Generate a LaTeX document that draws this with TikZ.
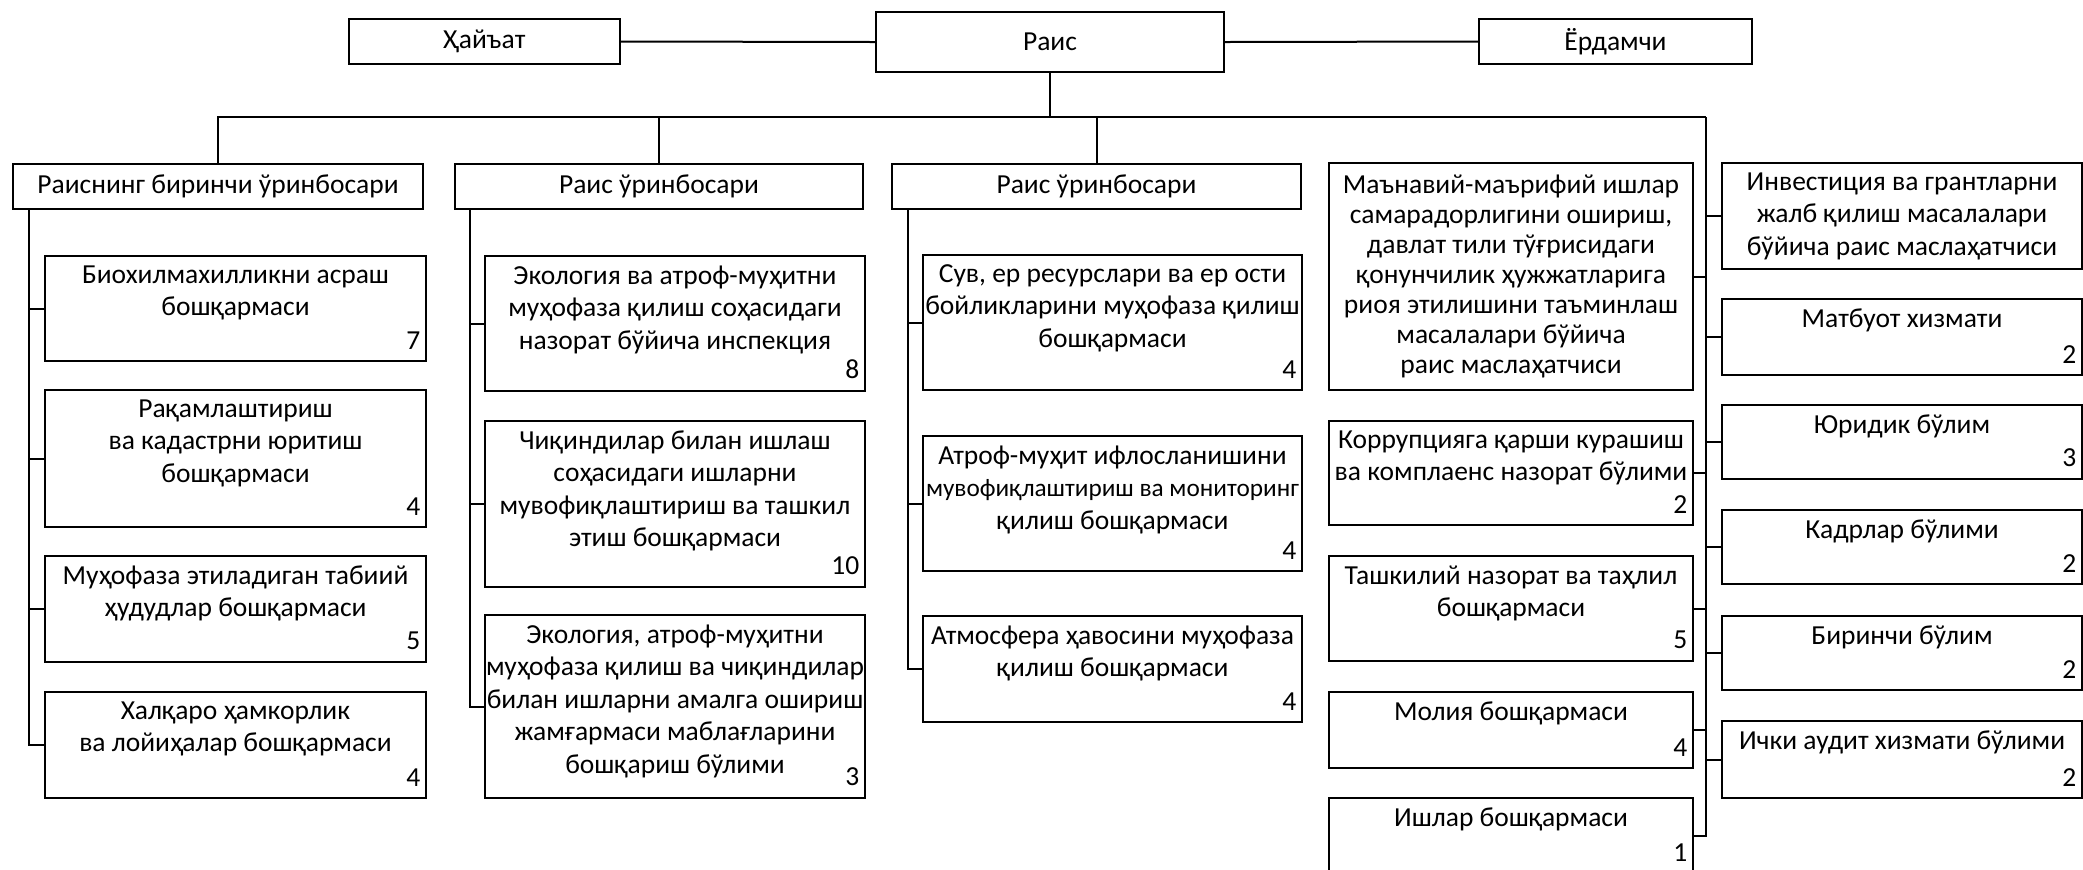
\documentclass[tikz,border=0pt]{standalone}
\usepackage{fontspec}
\setmainfont{Carlito}
\usetikzlibrary{positioning}

\newcommand{\pxu}[1]{#1*0.4pt}

\begin{document}
\begin{tikzpicture}[x=0.4pt,y=-0.4pt,font=\fontsize{11}{13}\selectfont,
  box/.style={rectangle, draw=black, line width=0.8pt, inner sep=0pt, below right},
  unittext/.style={below, align=center, inner sep=4pt},
  num/.style={above left, inner xsep=2.5pt, inner ysep=5pt},
  line/.style={draw=black, line width=0.8pt}]

   %   \draw[help lines] (0,0) grid (2083,869);
      \useasboundingbox (0,0) rectangle (2083,869);

      % top row
      \node [box, minimum width=\pxu{271}, minimum height=\pxu{45}] (hayat) at (348,18) {Ҳайъат};
      \node [box, minimum width=\pxu{348}, minimum height=\pxu{60}] (rais) at (875,11) {Раис};
      \node [box, minimum width=\pxu{273}, minimum height=\pxu{45}] (yordam) at (1478,18) {Ёрдамчи};

      \draw [line] (hayat.east) -- (rais.west);
      \draw [line] (rais.east) -- (yordam.west);

      % deputies
      \node [box, minimum width=\pxu{410}, minimum height=\pxu{45}] (c1) at (12,163) {Раиснинг биринчи ўринбосари};
      \node [box, minimum width=\pxu{408}, minimum height=\pxu{45}] (c2) at (454,163) {Раис ўринбосари};
      \node [box, minimum width=\pxu{409}, minimum height=\pxu{45}] (c3) at (891,163) {Раис ўринбосари};

      % column 1
      \node [box, minimum width=\pxu{381}, minimum height=\pxu{105}] (c1a) at (44,255) {};
      \node [unittext] (c1a-t) at (c1a.north) {Биохилмахилликни асраш\\бошқармаси};
      \node [num] (c1a-n) at (c1a.south east) {7};

      \node [box, minimum width=\pxu{381}, minimum height=\pxu{137}] (c1b) at (44,389) {};
      \node [unittext] (c1b-t) at (c1b.north) {Рақамлаштириш\\ва кадастрни юритиш\\бошқармаси};
      \node [num] (c1b-n) at (c1b.south east) {4};

      \node [box, minimum width=\pxu{381}, minimum height=\pxu{106}] (c1c) at (44,555) {};
      \node [unittext] (c1c-t) at (c1c.north) {Муҳофаза этиладиган табиий\\ҳудудлар бошқармаси};
      \node [num] (c1c-n) at (c1c.south east) {5};

      \node [box, minimum width=\pxu{381}, minimum height=\pxu{106}] (c1d) at (44,691) {};
      \node [unittext] (c1d-t) at (c1d.north) {Халқаро ҳамкорлик\\ва лойиҳалар бошқармаси};
      \node [num] (c1d-n) at (c1d.south east) {4};

      % column 2
      \node [box, minimum width=\pxu{380}, minimum height=\pxu{135}] (c2a) at (484,255) {};
      \node [unittext] (c2a-t) at (c2a.north) {Экология ва атроф-муҳитни\\муҳофаза қилиш соҳасидаги\\назорат бўйича инспекция};
      \node [num] (c2a-n) at (c2a.south east) {8};

      \node [box, minimum width=\pxu{380}, minimum height=\pxu{166}] (c2b) at (484,420) {};
      \node [unittext] (c2b-t) at (c2b.north) {Чиқиндилар билан ишлаш\\соҳасидаги ишларни\\мувофиқлаштириш ва ташкил\\этиш бошқармаси};
      \node [num] (c2b-n) at (c2b.south east) {10};

      \node [box, minimum width=\pxu{380}, minimum height=\pxu{183}] (c2c) at (484,614) {};
      \node [unittext] (c2c-t) at (c2c.north) {Экология, атроф-муҳитни\\муҳофаза қилиш ва чиқиндилар\\билан ишларни амалга ошириш\\жамғармаси маблағларини\\бошқариш бўлими};
      \node [num] (c2c-n) at (c2c.south east) {3};

      % column 3
      \node [box, minimum width=\pxu{379}, minimum height=\pxu{135}] (c3a) at (922,254) {};
      \node [unittext] (c3a-t) at (c3a.north) {Сув, ер ресурслари ва ер ости\\бойликларини муҳофаза қилиш\\бошқармаси};
      \node [num] (c3a-n) at (c3a.south east) {4};

      \node [box, minimum width=\pxu{379}, minimum height=\pxu{135}] (c3b) at (922,435) {};
      \node [unittext] (c3b-t) at (c3b.north) {Атроф-муҳит ифлосланишини\\{\fontsize{10.1}{13}\selectfont мувофиқлаштириш ва мониторинг}\\қилиш бошқармаси};
      \node [num] (c3b-n) at (c3b.south east) {4};

      \node [box, minimum width=\pxu{379}, minimum height=\pxu{106}] (c3c) at (922,615) {};
      \node [unittext] (c3c-t) at (c3c.north) {Атмосфера ҳавосини муҳофаза\\қилиш бошқармаси};
      \node [num] (c3c-n) at (c3c.south east) {4};

      % column 4
      \node [box, align=center, minimum width=\pxu{364}, minimum height=\pxu{227}, font=\fontsize{11}{12}\selectfont] (c4a) at (1328,162) {Маънавий-маърифий ишлар\\самарадорлигини ошириш,\\давлат тили тўғрисидаги\\қонунчилик ҳужжатларига\\риоя этилишини таъминлаш\\масалалари бўйича\\раис маслаҳатчиси};

      \node [box, minimum width=\pxu{364}, minimum height=\pxu{104}] (c4b) at (1328,420) {};
      \node [unittext] (c4b-t) at (c4b.north) {Коррупцияга қарши курашиш\\ва комплаенс назорат бўлими};
      \node [num] (c4b-n) at (c4b.south east) {2};

      \node [box, minimum width=\pxu{364}, minimum height=\pxu{105}] (c4c) at (1328,555) {};
      \node [unittext] (c4c-t) at (c4c.north) {Ташкилий назорат ва таҳлил\\бошқармаси};
      \node [num] (c4c-n) at (c4c.south east) {5};

      \node [box, minimum width=\pxu{364}, minimum height=\pxu{76}] (c4d) at (1328,691) {};
      \node [unittext] (c4d-t) at (c4d.north) {Молия бошқармаси};
      \node [num] (c4d-n) at (c4d.south east) {4};

      \node [box, minimum width=\pxu{364}, minimum height=\pxu{75}] (c4e) at (1328,797) {};
      \node [unittext] (c4e-t) at (c4e.north) {Ишлар бошқармаси};
      \node [num] (c4e-n) at (c4e.south east) {1};

      % column 5
      \node [box, align=center, minimum width=\pxu{360}, minimum height=\pxu{106}] (c5a) at (1721,162) {Инвестиция ва грантларни\\жалб қилиш масалалари\\бўйича раис маслаҳатчиси};

      \node [box, minimum width=\pxu{360}, minimum height=\pxu{76}] (c5b) at (1721,298) {};
      \node [unittext] (c5b-t) at (c5b.north) {Матбуот хизмати};
      \node [num] (c5b-n) at (c5b.south east) {2};

      \node [box, minimum width=\pxu{360}, minimum height=\pxu{74}] (c5c) at (1721,404) {};
      \node [unittext] (c5c-t) at (c5c.north) {Юридик бўлим};
      \node [num] (c5c-n) at (c5c.south east) {3};

      \node [box, minimum width=\pxu{360}, minimum height=\pxu{74}] (c5d) at (1721,509) {};
      \node [unittext] (c5d-t) at (c5d.north) {Кадрлар бўлими};
      \node [num] (c5d-n) at (c5d.south east) {2};

      \node [box, minimum width=\pxu{360}, minimum height=\pxu{74}] (c5e) at (1721,615) {};
      \node [unittext] (c5e-t) at (c5e.north) {Биринчи бўлим};
      \node [num] (c5e-n) at (c5e.south east) {2};

      \node [box, minimum width=\pxu{360}, minimum height=\pxu{77}] (c5f) at (1721,720) {};
      \node [unittext] (c5f-t) at (c5f.north) {Ички аудит хизмати бўлими};
      \node [num] (c5f-n) at (c5f.south east) {2};

      % bus lines
      \coordinate (busr) at (1706,117);
      \coordinate (v1) at (29,208);
      \coordinate (v2) at (470,208);
      \coordinate (v3) at (908,208);

      \draw [line] (rais.south) -- (rais.south |- busr);
      \draw [line] (c1.north) |- (busr);
      \draw [line] (c2.north) -- (c2.north |- busr);
      \draw [line] (c3.north) -- (c3.north |- busr);

      \draw [line] (v1) |- (c1a.west);
      \draw [line] (v1) |- (c1b.west);
      \draw [line] (v1) |- (c1c.west);
      \draw [line] (v1) |- (c1d.west);

      \draw [line] (v2) |- (c2a.west);
      \draw [line] (v2) |- (c2b.west);
      \draw [line] (v2) |- (c2c.west);

      \draw [line] (v3) |- (c3a.west);
      \draw [line] (v3) |- (c3b.west);
      \draw [line] (v3) |- (c3c.west);

      \draw [line] (busr) |- (c4a.east);
      \draw [line] (busr) |- (c4b.east);
      \draw [line] (busr) |- (c4c.east);
      \draw [line] (busr) |- (c4d.east);
      \draw [line] (busr) |- (c4e.east);

      \draw [line] (busr) |- (c5a.west);
      \draw [line] (busr) |- (c5b.west);
      \draw [line] (busr) |- (c5c.west);
      \draw [line] (busr) |- (c5d.west);
      \draw [line] (busr) |- (c5e.west);
      \draw [line] (busr) |- (c5f.west);

\end{tikzpicture}
\end{document}
